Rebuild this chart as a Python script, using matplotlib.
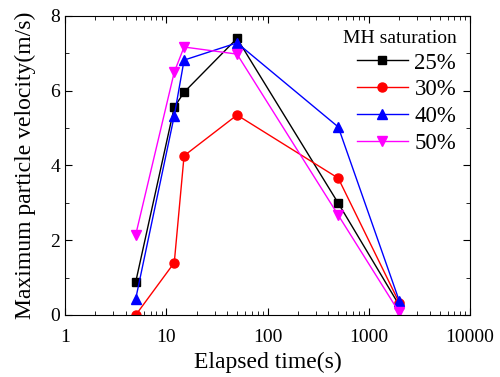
import matplotlib
matplotlib.use('Agg')
import matplotlib.pyplot as plt
from matplotlib.ticker import LogLocator, MultipleLocator, NullFormatter

plt.rcParams['font.family'] = ['Liberation Serif', 'DejaVu Serif']

# elapsed time (s) and max particle velocity (m/s) per MH saturation
time_s = [5, 12, 15, 50, 500, 2000]
v_25 = [0.89, 5.56, 5.96, 7.40, 2.99, 0.26]
v_30 = [0.0, 1.40, 4.26, 5.35, 3.66, 0.33]
v_40 = [0.44, 5.33, 6.82, 7.28, 5.03, 0.38]
v_50 = [2.15, 6.50, 7.17, 6.98, 2.67, 0.07]
labels = ['25%', '30%', '40%', '50%']

fig = plt.figure(figsize=(5, 3.77), dpi=100)
ax = fig.add_axes([0.13, 0.1645, 0.81, 0.7931])

ax.plot(time_s, v_25, color='black', marker='s', ms=6, lw=1, label=labels[0])
ax.plot(time_s, v_30, color='red', marker='o', ms=6.5, lw=1, label=labels[1])
ax.plot(time_s, v_40, color='blue', marker='^', ms=7, lw=1, label=labels[2])
ax.plot(time_s, v_50, color='magenta', marker='v', ms=7, lw=1, label=labels[3])

ax.set_xscale('log')
ax.set_xlim(1, 10000)
ax.set_ylim(0, 8)
ax.xaxis.set_minor_locator(LogLocator(base=10, subs=range(2, 10)))
ax.xaxis.set_minor_formatter(NullFormatter())
ax.yaxis.set_major_locator(MultipleLocator(2))
ax.yaxis.set_minor_locator(MultipleLocator(1))
ax.set_xticks([1, 10, 100, 1000, 10000])
ax.set_xticklabels(['1', '10', '100', '1000', '10000'])

ax.tick_params(which='both', direction='in', top=True, right=True, labelsize=14)
ax.tick_params(which='major', length=5)
ax.tick_params(which='minor', length=3)
ax.tick_params(axis='x', which='major', pad=10)

ax.set_xlabel('Elapsed time(s)', fontsize=17, labelpad=4)
ax.set_ylabel('Maximum particle velocity(m/s)', fontsize=17, labelpad=10)

leg = ax.legend(title='MH saturation', loc='upper right', frameon=False,
                fontsize=16.5, title_fontsize=14, handlelength=2.2,
                handletextpad=0.3, labelspacing=0.25, alignment='right',
                bbox_to_anchor=(1.0, 1.0), borderaxespad=0.2)

fig.savefig('out.png', dpi=100)
